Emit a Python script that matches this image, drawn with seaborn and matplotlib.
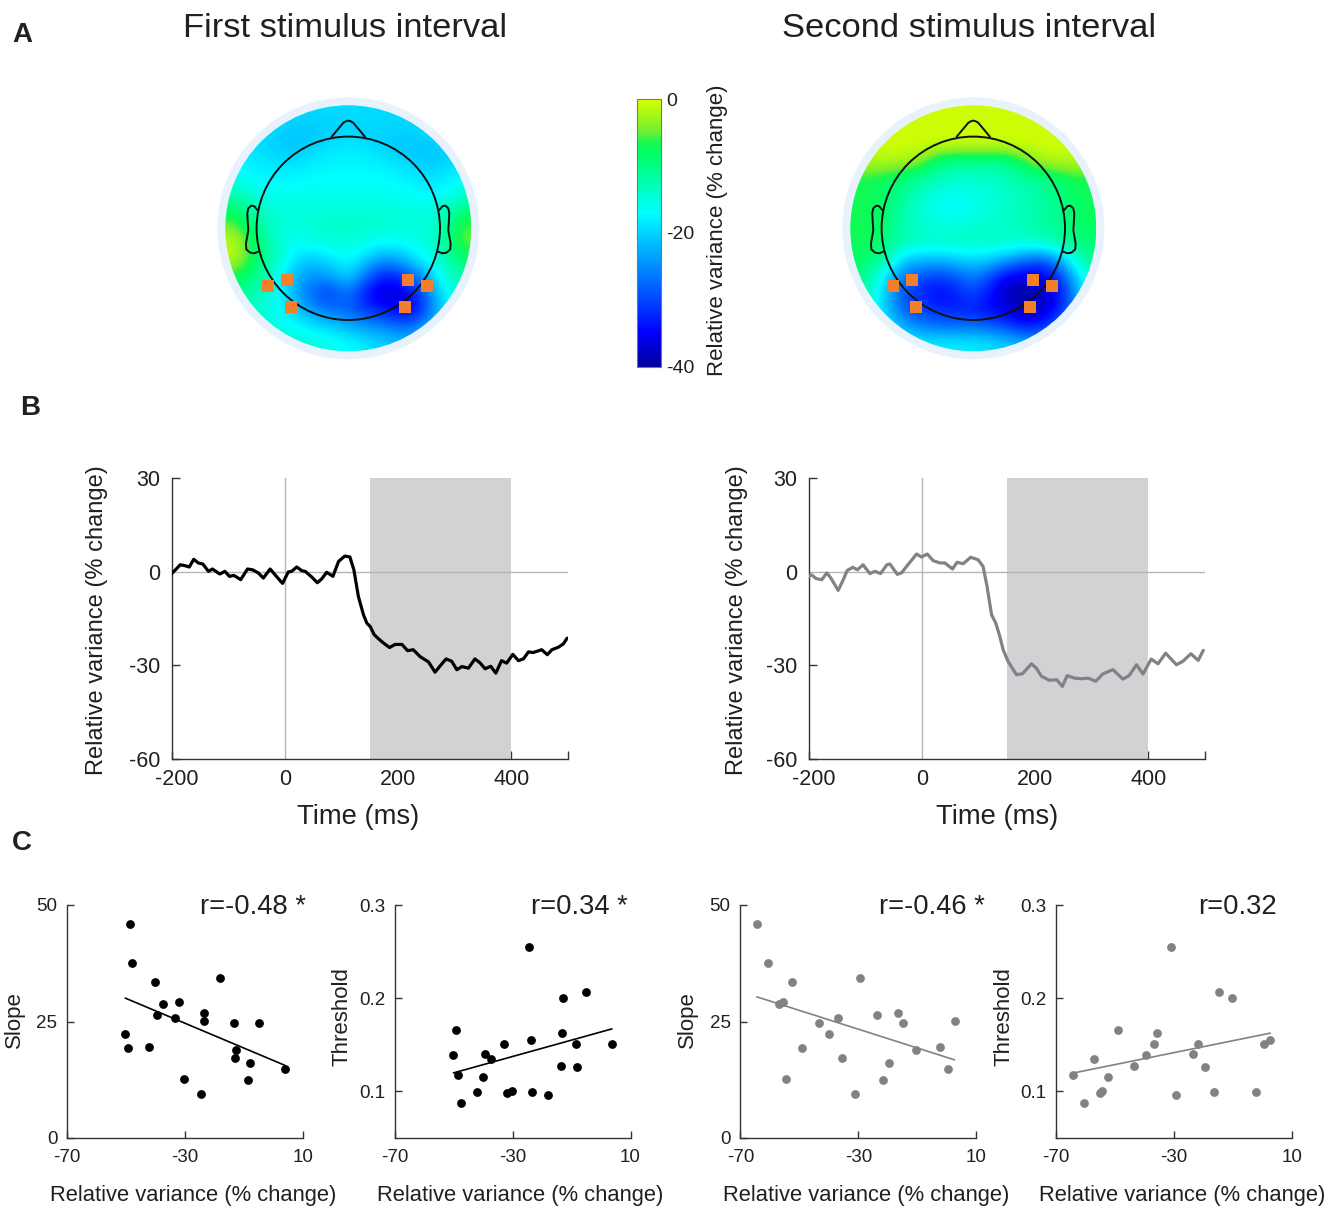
import numpy as np
import pandas as pd
import matplotlib
matplotlib.use('Agg')
import matplotlib.pyplot as plt
import matplotlib.transforms as mtransforms
import seaborn as sns
from matplotlib.colors import LinearSegmentedColormap
from matplotlib.cm import ScalarMappable
from matplotlib.colors import Normalize
from matplotlib.patches import Circle

sns.set_theme(style="white")
plt.rcParams['font.family'] = ['Liberation Sans', 'DejaVu Sans']
plt.rcParams['text.color'] = '#231f20'
plt.rcParams['axes.labelcolor'] = '#231f20'
plt.rcParams['xtick.color'] = '#231f20'
plt.rcParams['ytick.color'] = '#231f20'
plt.rcParams['axes.unicode_minus'] = False

W, H = 1339, 1208

# --- panel A: scalp maps (% change)
topo_first = [
    [-19.5, -19.5, -19.5, -19.5, -19.5, -19.5, -19.5, -19.5, -19.5, -19.5, -19.5, -19.5, -19.5, -19.5, -19.5],
    [-19, -19, -19, -20, -21, -21, -20, -20, -20, -20, -20, -20, -19, -19, -19],
    [-18, -19, -20, -21, -21, -20, -19, -18.5, -19, -20, -21, -21, -21, -20, -19],
    [-17, -18, -18.5, -19, -19, -18, -17.5, -17.5, -17.5, -18, -19, -20, -21, -20, -19],
    [-16, -17, -17.5, -17.5, -17.5, -17, -17, -17, -17, -17, -17.5, -18, -19, -18, -17],
    [-12, -14, -16, -16, -16, -16, -16, -16, -16, -16, -16, -17, -17, -17, -14],
    [-8, -11, -14, -15, -15, -15, -14.5, -14.5, -14.5, -15, -15, -15, -15, -13, -9],
    [-4, -8, -13, -15, -15, -14, -14, -14, -14, -14, -15, -15, -15, -11, -5],
    [-1, -6, -11, -15, -17, -16, -15, -15, -16, -17, -17, -16, -15, -11, -5],
    [-2, -6, -11, -15, -20, -21, -19, -17, -20, -25, -24, -20, -16, -13, -9],
    [-7, -9, -13, -18, -23, -25, -24, -20, -27, -33, -33, -29, -21, -15, -12],
    [-11, -12, -14, -18, -24, -29, -31, -27, -33, -38, -37, -34, -25, -17, -14],
    [-13, -14, -15, -17, -21, -25, -27, -28, -31, -33, -35, -36, -27, -19, -15],
    [-14, -14, -15, -16, -17, -19, -20, -22, -24, -25, -27, -27, -22, -17, -15],
    [-14, -14, -14, -14, -14, -15, -16, -17, -18, -20, -21, -21, -19, -16, -15],
]
topo_second = [
    [-0.5, -0.5, -0.5, -0.5, -0.5, -0.5, -0.5, -0.5, -0.5, -0.5, -0.5, -0.5, -0.5, -0.5, -0.5],
    [-0.5, -0.5, -0.5, -0.5, -0.5, -0.5, -0.5, -0.5, -0.5, -0.5, -0.5, -0.5, -0.5, -0.5, -0.5],
    [-0.5, -0.5, -0.5, -0.5, -0.5, -1, -1, -1, -1, -1, -0.5, -0.5, -0.5, -0.5, -0.5],
    [-2, -2, -2, -2.5, -5, -10, -11, -11, -11, -11, -7, -3, -2, -2, -2],
    [-7, -7, -8, -10, -12, -13, -14, -14, -14, -13, -12, -11, -9, -7, -7],
    [-7, -7, -9, -12, -14, -16, -16.5, -16, -15, -14, -13, -12, -10, -8, -7],
    [-7, -7, -10, -13, -15, -17, -17, -16, -15, -14, -13, -12, -11, -9, -7],
    [-7, -7, -10, -13, -14, -14.5, -14.5, -14, -14, -14, -13, -12, -11, -9, -8],
    [-7, -8, -11, -13, -14, -14, -14, -14, -14, -14, -15, -14, -13, -11, -9],
    [-8, -10, -14, -22, -22, -23, -21, -20, -21, -24, -27, -30, -26, -17, -11],
    [-10, -13, -22, -28, -30, -31, -29, -26, -30, -36, -37, -37, -34, -24, -14],
    [-11, -15, -24, -30, -33, -35, -33, -30, -34, -38, -40, -38, -36, -28, -16],
    [-12, -16, -23, -29, -31, -32, -33, -33, -35, -36, -39, -38, -35, -27, -17],
    [-13, -15, -19, -24, -26, -27, -27, -27, -28, -30, -33, -33, -29, -22, -16],
    [-13, -14, -16, -17, -18, -18, -18, -18, -19, -20, -22, -22, -20, -17, -15],
]
sensor_x = [-80.7, -61.7, -57.7, 60, 78.3, 56.7]
sensor_y = [-57.7, -51.7, -78.3, -51.7, -57.3, -78.3]
cbar_ticks = [-40, -20, 0]

# --- panel B: time courses
t_first = [-200, -192, -185, -176, -169, -161, -153, -145, -135, -128, -115, -106, -98, -90, -78,
           -66, -57, -47, -38, -26, -14, -4, 6, 12, 21, 30, 36, 47.5, 57.5, 65, 74, 85, 95, 106,
           115, 122, 130, 139, 145, 151, 158, 165, 174, 185, 195, 207, 217, 227, 239, 254, 265.5,
           274, 285, 295, 304, 313, 324.5, 336, 345, 354, 364, 373, 383, 392, 403, 413, 422, 430.5,
           439, 454, 464, 472, 483.5, 492.5, 499]
var_first = [-0.6, 0.85, 2.2, 1.9, 1.5, 3.95, 2.8, 2.45, 0.1, 0.85, -0.75, 0.1, -1.5, -1.2, -2.55,
             0.85, 0.6, -0.4, -2.05, 0.85, -1.7, -3.75, -0.1, 0.1, 1.5, 0.3, 0.1, -1.7, -3.55, -2.35,
             -0.2, -1.5, 3.3, 5, 4.7, 0.6, -7.95, -13.8, -16.5, -17.6, -20.2, -21.4, -22.8, -24.3,
             -23.3, -23.3, -25.3, -25, -27.2, -28.9, -32.2, -30.3, -27.95, -28.7, -31.4, -30.4, -30.9,
             -27.95, -29.2, -31.1, -30.3, -32.5, -28.5, -29.3, -26.5, -28.5, -27.9, -25.7, -25.9, -25,
             -26.6, -25, -24.2, -23.1, -21.3]
t_second = [-200, -195, -187, -177, -168, -161, -148, -139, -132, -122, -114, -104, -92, -83, -73,
            -62, -56.5, -43.5, -36, -27, -9.5, -1, 9.5, 20, 32, 40.5, 54, 62, 73, 86, 99, 108, 115,
            123, 130.5, 137.5, 143.5, 152, 167, 177.5, 193.5, 202, 211, 225, 238, 248, 256.5, 270,
            282, 293.5, 307, 320, 337.5, 355, 366, 379, 390.5, 405, 417, 430.5, 449.5, 461, 475, 488, 497]
var_second = [-1.5, -1, -2.2, -2.6, -0.4, -2, -6, -2.6, 0.4, 1.4, 0.6, 2.2, -0.6, 0.1, -0.6,
              2.2, 2.45, -0.85, -0.4, 1.7, 5.65, 4.7, 5.65, 3.5, 2.8, 2.8, 0.85, 3, 2.55, 4.6, 3.85, 1.7, -4.7,
              -13.8, -16.5, -20.7, -25, -28.7, -33, -32.7, -29.5, -30.9, -33.5, -34.8, -34.6, -36.75, -33.3, -34.1,
              -34.3, -34.1, -35.1, -32.7, -31.4, -34.4, -33.3, -29.8, -32.8, -28, -29.5, -26.1, -29.8, -28.7, -26.3, -28.4, -25.2]

# --- panel C: one point per subject
x_slope_first = [-48.7, -48, -40.1, -18.4, -37.4, -32.1, -39.4, -33.3, -23.6, -23.7, -13.6,
                 -5.1, -50.3, -49.3, -42.1, -13, -13.3, -8, 3.7, -30.4, -8.7, -24.6]
y_slope_first = [45.9, 37.5, 33.5, 34.4, 28.7, 29.1, 26.3, 25.8, 26.8, 25.1, 24.6,
                 24.7, 22.3, 19.3, 19.5, 18.8, 17.2, 16.1, 14.9, 12.6, 12.5, 9.4]
x_thr_first = [-24.4, -5.1, -12.8, -49.1, -13.1, -23.7, -33.1, -8.6, 3.7, -50.1, -39.4,
               -37.4, -13.6, -8, -48.6, -40, -42, -32, -30.3, -23.4, -18, -47.7]
y_thr_first = [.2544, .2066, .2006, .1657, .1625, .1555, .1505, .1505, .1512, .1392, .1403,
               .135, .1272, .1258, .118, .1155, .0996, .098, .1007, .0996, .0958, .0877]
x_slope_second = [-64.4, -60.6, -52.6, -29.3, -57, -55.4, -36.9, -23.7, -16.6, -15, 2.6,
                  -43.5, -39.8, -49, -2.4, -10.5, -35.6, -19.6, 0.5, -54.5, -21.7, -31.1]
y_slope_second = [45.9, 37.5, 33.5, 34.4, 28.7, 29.1, 25.8, 26.3, 26.8, 24.6, 25.1,
                  24.6, 22.3, 19.3, 19.5, 18.8, 17.2, 16.1, 14.9, 12.6, 12.5, 9.4]
x_thr_second = [-31.1, -14.9, -10.5, -48.9, -35.6, 2.6, -36.9, -21.7, 0.5, -39.6, -23.7,
                -57, -43.4, -19.6, -64.2, -52.5, -16.6, -2.3, -55.2, -54.4, -29.3, -60.6]
y_thr_second = [.2544, .2066, .2006, .1657, .1625, .1555, .1505, .1505, .1512, .1392, .1403,
                .135, .1272, .1258, .118, .1155, .0996, .0996, .098, .1007, .0958, .0877]

BLACK = '#000000'
GREY = '#808285'
SPINE = '#333333'
jet_cut = LinearSegmentedColormap.from_list('jet_cut', [
    (0.0, '#00009c'), (0.125, '#0000ff'), (0.575, '#00ffff'), (0.80, '#00ff64'),
    (0.84, '#18f850'), (0.88, '#70f030'), (1.0, '#d8ff00')])

fig = plt.figure(figsize=(W / 100, H / 100), dpi=100)


def add_axes_px(left, top, right, bottom):
    return fig.add_axes([left / W, 1 - bottom / H, (right - left) / W, (bottom - top) / H])


def label_px(x, y, s, **kw):
    kw.setdefault('ha', 'center')
    kw.setdefault('va', 'center')
    # va=center sits a little high for this font
    if kw.get('rotation'):
        x += 2.5
    else:
        y += 2.5
    fig.text(x / W, 1 - y / H, s, **kw)


def draw_topo(cx, cy, values):
    ax = add_axes_px(cx - 133, cy - 133, cx + 133, cy + 133)
    ax.set_xlim(-133, 133)
    ax.set_ylim(-133, 133)
    ax.axis('off')
    ax.add_patch(Circle((0, 0), 131, fc='#e8f2fd', ec='none'))
    im = ax.imshow(values, extent=(-123, 123, -123, 123), cmap=jet_cut, vmin=-40, vmax=0,
                   interpolation='bicubic', aspect='auto', zorder=2)
    im.set_clip_path(Circle((0, 0), 123, transform=ax.transData))
    ax.set_xlim(-133, 133)
    ax.set_ylim(-133, 133)
    # head outline
    ax.add_patch(Circle((0, 0), 91.7, fc='none', ec='#111111', lw=1.4, zorder=3))
    ax.plot([-16.7, -5, -2.5, 0, 2.5, 5, 16.7], [91.5, 105.5, 107, 107.7, 107, 105.5, 91.5],
            color='#111111', lw=1.4, zorder=3, solid_joinstyle='round')
    ear_x = [91, 94, 97, 100, 101, 100.5, 100, 102.3, 102, 98.3, 94, 89.7]
    ear_y = [18.3, 22, 22.7, 20, 15, 5, -2, -15, -21, -24.3, -25, -23.3]
    for side in (-1, 1):
        ax.plot(side * np.array(ear_x), ear_y, color='#111111', lw=1.4, zorder=3, solid_joinstyle='round')
    ax.scatter(sensor_x, sensor_y, marker='s', s=78, color='#f47f2a', linewidths=0, zorder=4)


draw_topo(348.3, 228.3, topo_first)
draw_topo(973.3, 228.3, topo_second)

label_px(345, 26, 'First stimulus interval', fontsize=24.8)
label_px(969, 26, 'Second stimulus interval', fontsize=24.8)
label_px(22, 32, 'A', fontsize=20, fontweight='bold')
label_px(30, 406, 'B', fontsize=20, fontweight='bold')
label_px(22, 841, 'C', fontsize=20, fontweight='bold')

cax = add_axes_px(637, 99, 661, 366.5)
cbar = fig.colorbar(ScalarMappable(Normalize(-40, 0), jet_cut), cax=cax, ticks=cbar_ticks)
cbar.ax.set_yticklabels([str(v) for v in cbar_ticks], fontsize=14)
cbar.ax.yaxis.set_ticks(np.arange(-40, 1, 5), minor=True)
cbar.ax.tick_params(which='both', direction='in', left=True, right=True, length=2, width=0.7,
                    color='#444444', pad=3.5)
cbar.outline.set_edgecolor('#777777')
cbar.outline.set_linewidth(0.8)
label_px(715, 230, 'Relative variance (% change)', fontsize=16, rotation=90)


def style_spines(ax):
    sns.despine(ax=ax)
    for side in ('left', 'bottom'):
        ax.spines[side].set_color(SPINE)
        ax.spines[side].set_linewidth(1.0)


def draw_course(left, right, t, v, color):
    ax = add_axes_px(left, 478, right, 759)
    ax.axvspan(150, 400, color='#d1d2d4', lw=0, zorder=1)
    ax.axhline(0, color='#b5b5b5', lw=1, zorder=2)
    ax.axvline(0, color='#b5b5b5', lw=1, zorder=2)
    sns.lineplot(x=t, y=v, ax=ax, color=color, lw=2.3, estimator=None, sort=False, zorder=3,
                 solid_joinstyle='round')
    ax.set_xlim(-200, 500)
    ax.set_ylim(-60, 30)
    ax.set_xticks([-200, 0, 200, 400, 500], ['-200', '0', '200', '400', ''])
    ax.set_yticks([-60, -30, 0, 30])
    ax.tick_params(direction='in', length=6, width=1, color=SPINE, labelsize=15.5, left=True, bottom=True)
    ax.tick_params(axis='x', pad=7)
    ax.tick_params(axis='y', pad=8)
    ax.xaxis.get_major_ticks()[1].tick1line.set_visible(False)
    ax.yaxis.get_major_ticks()[2].tick1line.set_visible(False)
    # the -200 label sits a bit right of its tick
    lab = ax.get_xticklabels()[0]
    lab.set_transform(lab.get_transform() + mtransforms.ScaledTranslation(5 / 100, 0, fig.dpi_scale_trans))
    style_spines(ax)


draw_course(171.7, 567.7, t_first, var_first, BLACK)
draw_course(808.7, 1205, t_second, var_second, GREY)
label_px(95, 620, 'Relative variance (% change)', fontsize=17, rotation=90)
label_px(734, 620, 'Relative variance (% change)', fontsize=17, rotation=90)
label_px(358, 814, 'Time (ms)', fontsize=19.7)
label_px(997, 814, 'Time (ms)', fontsize=19.7)


def draw_scatter(left, right, x, y, color, kind, r_text, r_x, ylab_x):
    ax = add_axes_px(left, 905, right, 1138)
    df = pd.DataFrame({'x': x, 'y': y})
    sns.regplot(data=df, x='x', y='y', ax=ax, ci=None, color=color,
                scatter_kws={'s': 40, 'alpha': 1, 'linewidths': 0},
                line_kws={'lw': 1.2})
    ax.set_xlim(-70, 10)
    ax.set_xticks([-70, -30, 10])
    if kind == 'Slope':
        ax.set_ylim(0, 50)
        ax.set_yticks([0, 25, 50])
    else:
        ax.set_ylim(0.05, 0.3)
        ax.set_yticks([0.1, 0.2, 0.3], ['0.1', '0.2', '0.3'])
    ax.set_xlabel('')
    ax.set_ylabel('')
    ax.tick_params(direction='in', length=5, width=1, color=SPINE, labelsize=13.5, left=True, bottom=True)
    ax.tick_params(axis='x', pad=8)
    ax.tick_params(axis='y', pad=7)
    style_spines(ax)
    label_px(r_x, 904, r_text, fontsize=19.7)
    label_px(ylab_x, 1020 if kind == 'Slope' else 1017, kind, fontsize=16, rotation=90)
    label_px((left + right) / 2 + 8, 1193, 'Relative variance (% change)', fontsize=15.8)


draw_scatter(67, 303.5, x_slope_first, y_slope_first, BLACK, 'Slope', 'r=-0.48 *', 253, 12)
draw_scatter(394.8, 630.5, x_thr_first, y_thr_first, BLACK, 'Threshold', 'r=0.34 *', 579, 340)
draw_scatter(740.4, 976.4, x_slope_second, y_slope_second, GREY, 'Slope', 'r=-0.46 *', 932, 685)
draw_scatter(1056, 1292, x_thr_second, y_thr_second, GREY, 'Threshold', 'r=0.32', 1237, 1001)

fig.savefig('out.png', dpi=100, facecolor='white')
